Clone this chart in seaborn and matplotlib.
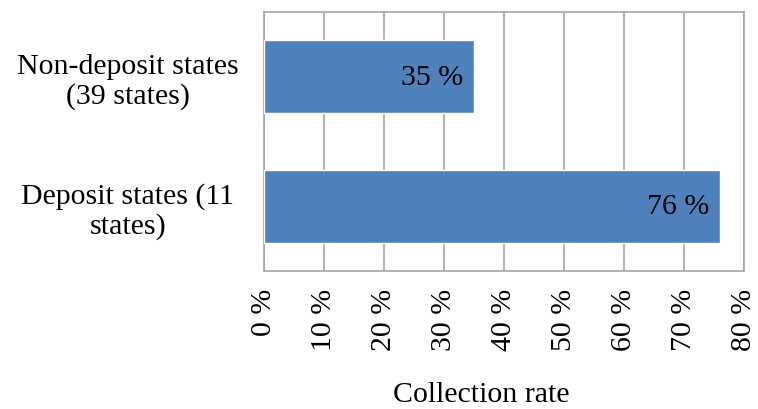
import numpy as np
import pandas as pd
import seaborn as sns
import matplotlib.pyplot as plt

categories = ["Non-deposit states\n(39 states)", "Deposit states (11\nstates)"]
rates = [35, 76]
bar_labels = ["35 %", "76 %"]
ticks = [0, 10, 20, 30, 40, 50, 60, 70, 80]
tick_labels = ["0 %", "10 %", "20 %", "30 %", "40 %", "50 %", "60 %", "70 %", "80 %"]

sns.set_theme(style="white")
plt.rcParams['font.family'] = ['Liberation Serif', 'DejaVu Serif']
plt.rcParams['text.color'] = 'black'
plt.rcParams['xtick.color'] = 'black'
plt.rcParams['ytick.color'] = 'black'
plt.rcParams['axes.labelcolor'] = 'black'

df = pd.DataFrame({"state": categories, "rate": rates})

fig = plt.figure(figsize=(7.58, 4.10), dpi=100)
ax = fig.add_axes([264/758, 1-272/410, (744-264)/758, (272-13)/410])

sns.barplot(data=df, x="rate", y="state", orient="h", color="#4F81BD",
            saturation=1, width=0.56, ax=ax, zorder=3)

ax.set_xlim(0, 80)
ax.set_xticks(ticks)
ax.set_xticklabels(tick_labels, rotation=90, fontsize=21.5, va="top")
ax.tick_params(axis="y", labelsize=21.5, length=0)
ax.tick_params(axis="x", length=0, pad=12)
for lbl in ax.get_yticklabels():
    lbl.set_horizontalalignment("center")
    lbl.set_multialignment("center")
    lbl.set_linespacing(1.15)
ax.yaxis.set_tick_params(pad=98)

ax.grid(axis="x", color="#A6A6A6", linewidth=1.2, zorder=0)
for sp in ax.spines.values():
    sp.set_color("#A6A6A6")
    sp.set_linewidth(1.2)

for i, (v, t) in enumerate(zip(rates, bar_labels)):
    ax.text(v - 1.8, i, t, ha="right", va="center", fontsize=21.5, zorder=4)

ax.set_ylabel("")
ax.set_xlabel("Collection rate", fontsize=21.5)
ax.xaxis.set_label_coords((481-264)/(744-264), -(395-272)/(272-13))
ax.xaxis.label.set_va("center")

fig.savefig("out.png", dpi=100)
